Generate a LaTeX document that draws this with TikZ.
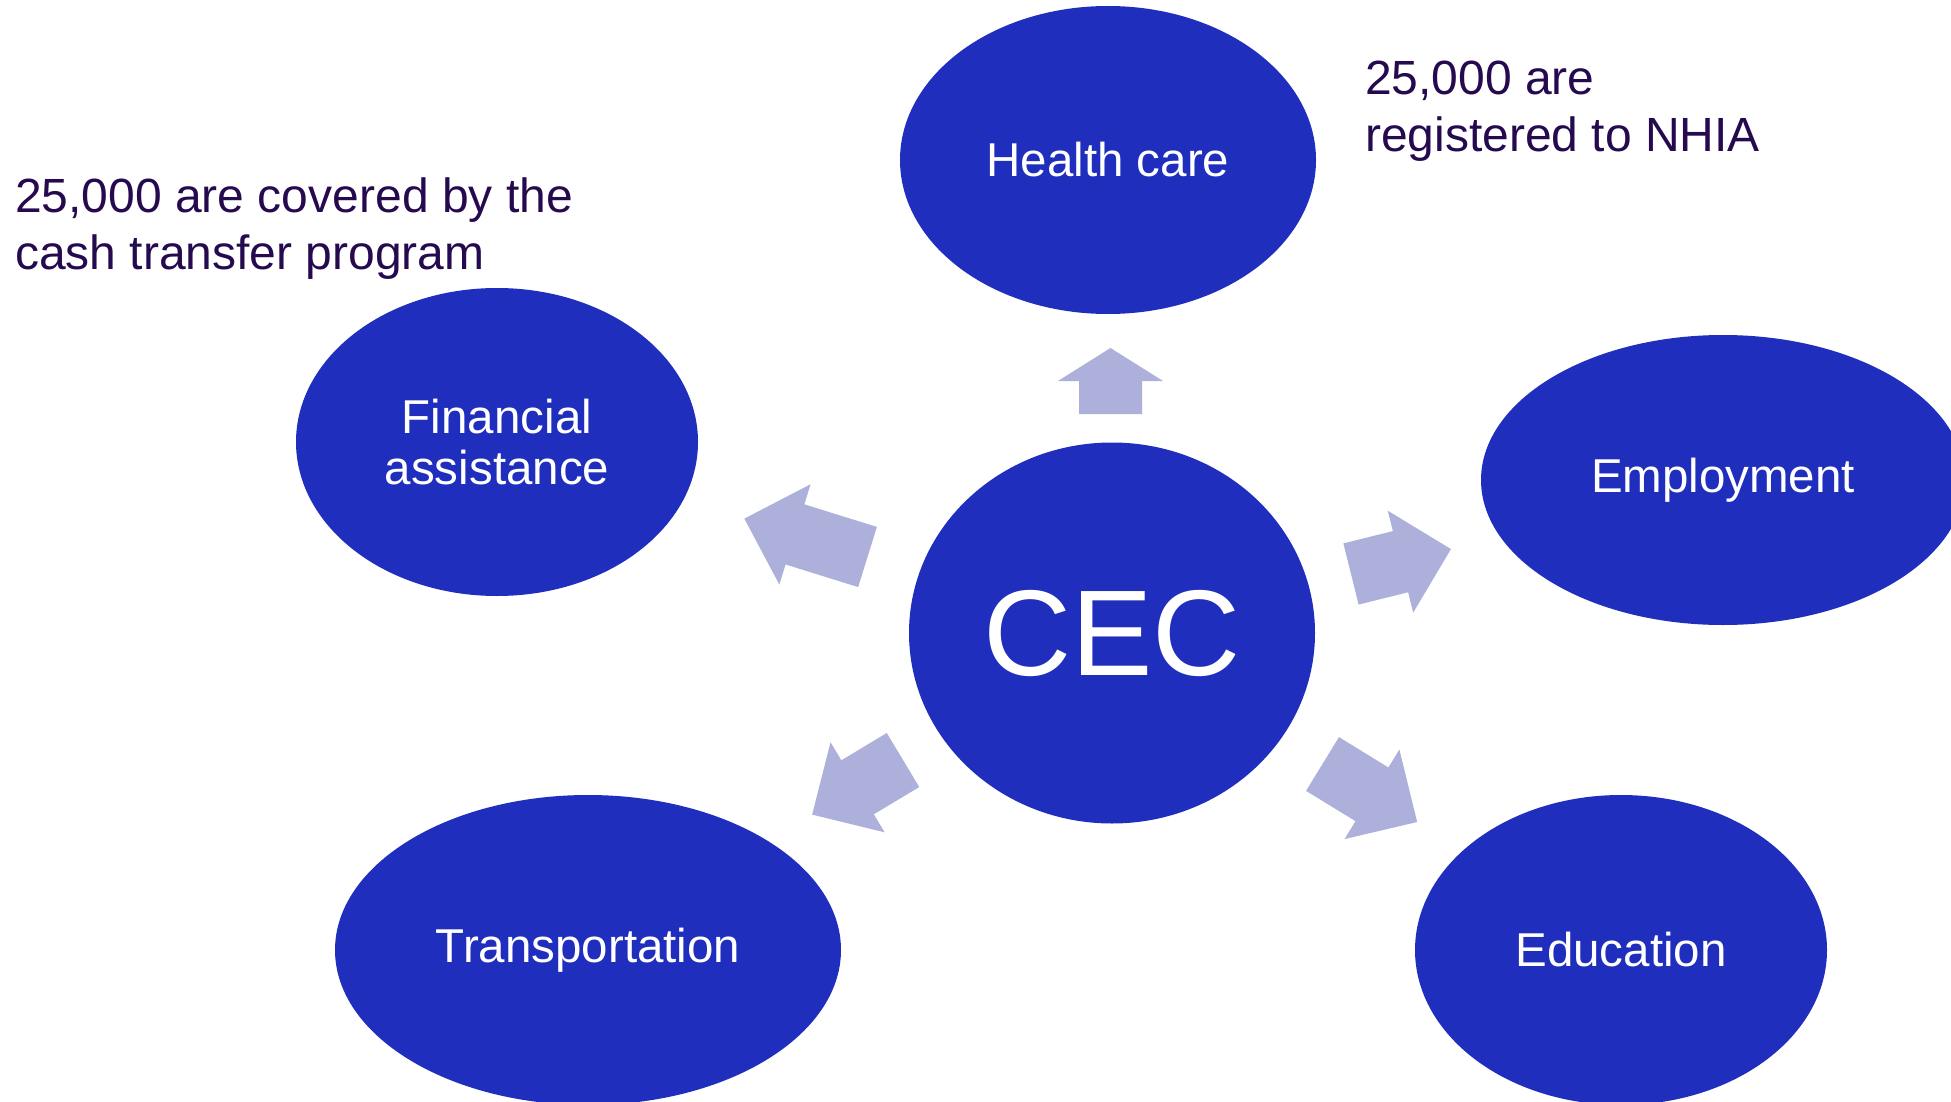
\documentclass[tikz,border=0pt]{standalone}
\usepackage{fontspec}
\setmainfont{Liberation Sans}
\usetikzlibrary{shapes.geometric}
\definecolor{ellblue}{RGB}{32,46,190}
\definecolor{arrlav}{RGB}{172,176,218}
\definecolor{notepurple}{RGB}{38,10,80}
\tikzset{
  bub/.style={ellipse, fill=ellblue, draw=none, text=white, inner sep=0pt,
    font=\fontsize{47.5}{51}\selectfont, align=center},
  note/.style={text=notepurple, inner sep=0pt, anchor=north west, align=left,
    font=\fontsize{48}{56.5}\selectfont},
  pics/blockarrow/.style args={#1/#2}{code={
    \fill[arrlav] (0,-31.5) -- (#1,-31.5) -- (#1,-52.5) -- ({#1+#2},0)
      -- (#1,52.5) -- (#1,31.5) -- (0,31.5) -- cycle;}}
}
\begin{document}
\begin{tikzpicture}[x=1pt,y=-1pt]
\useasboundingbox (0,0) rectangle (1951,1102);
\clip (0,0) rectangle (1951,1102);
\fill[white] (0,0) rectangle (1951,1102);

\node[bub, minimum width=416, minimum height=308] (hc) at (1108,160) {Health care};
\node[bub, minimum width=406, minimum height=381, font=\fontsize{122}{130}\selectfont] (cec) at (1112,633) {CEC};
\node[bub, minimum width=402, minimum height=308] (fin) at (497,442) {Financial\\assistance};
\node[bub, minimum width=484, minimum height=290] (emp) at (1723,480) {Employment};
\node[bub, minimum width=506, minimum height=310] (trans) at (588,950) {Transportation};
\node[bub, minimum width=412, minimum height=310] (edu) at (1621,950) {Education};

\pic[rotate=90] at (1110.5,414) {blockarrow=33/33};
\pic[rotate=162.7] at (867.5,557) {blockarrow=76/53};
\pic[rotate=211] at (903,760) {blockarrow=53/53};
\pic[rotate=14] at (1351,574) {blockarrow=51/52};
\pic[rotate=-31.5] at (1322.5,764) {blockarrow=58/53};

\node[note] (notefin) at (15,178) {25,000 are covered by the\\cash transfer program};
\node[note] (notehc) at (1365,61) {25,000 are\\registered to NHIA};
\end{tikzpicture}
\end{document}
